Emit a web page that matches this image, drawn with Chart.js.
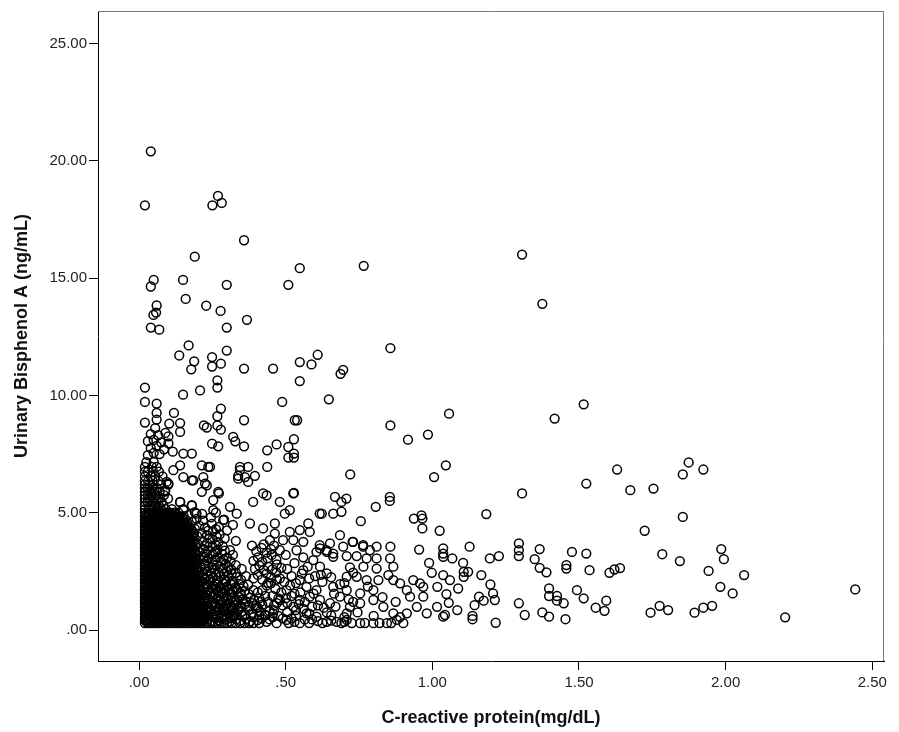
<!DOCTYPE html>
<html>
<head>
<meta charset="utf-8">
<script src="https://cdn.jsdelivr.net/npm/chart.js@4.4.1/dist/chart.umd.min.js"></script>
<style>
  html, body { margin: 0; padding: 0; background: #fff; }
  canvas { display: block; }
</style>
</head>
<body>
<canvas id="chart" width="899" height="732"></canvas>
<script>
// axis ticks
const xTicks = [0, 0.5, 1, 1.5, 2, 2.5];
const xTickLabels = [".00", ".50", "1.00", "1.50", "2.00", "2.50"];
const yTicks = [0, 5, 10, 15, 20, 25];
const yTickLabels = [".00", "5.00", "10.00", "15.00", "20.00", "25.00"];

// [CRP, BPA] pairs
const highPoints = [
  [0.040,20.40],[0.020,18.10],[0.250,18.10],[0.269,18.50],[0.282,18.20],[0.358,16.61],[0.190,15.91],
  [0.548,15.42],[0.509,14.71],[0.050,14.92],[0.040,14.64],[0.150,14.92],[0.299,14.71],[0.159,14.11],
  [0.229,13.82],[0.278,13.60],[0.368,13.22],[0.060,13.83],[0.058,13.53],[0.049,13.43],[0.040,12.89],
  [0.069,12.80],[0.299,12.89],[0.766,15.52],[1.306,16.00],[1.375,13.90],[0.857,12.01],
  [0.169,12.13],[0.137,11.70],[0.188,11.45],[0.178,11.11],[0.249,11.63],[0.249,11.23],[0.279,11.35],
  [0.299,11.91],[0.358,11.14],[0.457,11.14],[0.548,11.42],[0.588,11.32],[0.609,11.73],[0.548,10.61],
  [0.687,10.92],[0.696,11.09],[0.267,10.64],[0.267,10.33],[0.208,10.21],[0.150,10.03],[0.020,10.33],
  [0.020,9.72],[0.060,9.65],[0.060,9.25],[0.119,9.25],[0.279,9.43],[0.488,9.72],[0.647,9.83],
  [1.057,9.22],[1.516,9.62],[1.417,9.01]
];

const midPoints = [
  [0.020,8.84],[0.060,8.97],[0.103,8.80],[0.140,8.82],[0.140,8.44],[0.267,9.11],[0.221,8.72],[0.231,8.63],
  [0.267,8.72],[0.279,8.54],[0.358,8.94],[0.531,8.94],[0.539,8.94],[0.857,8.72],[0.917,8.11],[0.985,8.33],
  [0.321,8.23],[0.328,8.04],[0.358,7.83],[0.249,7.94],[0.270,7.83],[0.437,7.66],[0.469,7.91],[0.509,7.80],
  [0.528,8.13],[0.509,7.35],[0.528,7.52],[0.528,7.35],[0.437,6.95],[0.344,6.95],[0.372,6.95],[0.395,6.57],
  [0.372,6.31],[0.338,6.57],[0.214,7.02],[0.236,6.95],[0.140,7.02],[0.151,6.52],[0.180,6.38],[0.219,6.52],
  [0.231,6.17],[0.100,6.24],[0.272,5.82],[0.423,5.82],[0.435,5.74],[0.528,5.84],[0.668,5.67],[0.707,5.60],
  [0.720,6.63],[1.006,6.52],[1.046,7.02],[1.306,5.82],[1.525,6.24],[1.630,6.84],[1.675,5.96],
  [1.874,7.14],[1.854,6.63],[1.924,6.84],[1.754,6.03],
  [0.03,7.45],[0.05,7.55],[0.07,7.50],[0.04,7.75],[0.06,7.85],[0.085,7.70],[0.03,8.05],[0.05,8.10],
  [0.075,8.00],[0.10,7.95],[0.04,8.35],[0.065,8.30],[0.09,8.40],[0.055,8.60],[0.10,8.25],[0.115,7.60],
  [0.151,7.52],[0.180,7.52],[0.117,6.81],[0.185,6.38],[0.242,6.95],[0.214,5.89],[0.270,5.89],[0.253,5.53],
  [0.344,6.81],[0.361,6.52],[0.338,6.45],[0.094,6.31],[0.089,5.96],[0.140,5.46],[0.180,5.32],[0.151,5.11],
  [0.196,4.96],[0.253,5.11],[0.287,4.68],[0.310,5.25],[0.333,4.96],[0.225,6.24],
  [0.526,5.82],[0.480,5.46],[0.514,5.11],[0.497,4.96],[0.389,5.46],[0.616,4.96],[0.662,4.96],[0.623,4.96]
];

const tailPoints = [
  [0.855,5.67],[0.855,5.50],[0.807,5.25],[0.690,5.46],[0.690,5.04],[0.756,4.64],[1.184,4.94],[0.937,4.75],
  [0.963,4.89],[0.966,4.75],[0.966,4.33],[1.025,4.23],[0.728,3.76],[0.696,3.55],[0.764,3.55],[0.810,3.55],
  [0.857,3.55],[0.955,3.43],[1.037,3.48],[1.037,3.26],[1.037,3.12],[1.068,3.05],[1.127,3.55],[1.105,2.86],
  [0.989,2.86],[1.196,3.05],[1.227,3.15],[1.295,3.69],[1.295,3.40],[1.295,3.15],[1.366,3.45],[1.349,3.02],
  [1.366,2.65],[1.389,2.46],[1.457,2.77],[1.457,2.62],[1.476,3.33],[1.525,3.26],[1.536,2.55],[1.604,2.44],
  [1.621,2.58],[1.640,2.64],[1.398,1.77],[1.398,1.45],[1.425,1.45],[1.425,1.25],[1.448,1.14],[1.493,1.70],
  [1.516,1.35],[1.557,0.95],[1.587,0.82],[1.593,1.25],[1.295,1.14],[1.315,0.64],[1.375,0.75],[1.398,0.57],
  [1.454,0.46],[1.216,0.31],[1.137,0.60],[1.137,0.46],[1.159,1.42],[1.144,1.06],[1.175,1.25],[1.213,1.28],
  [1.207,1.56],[1.198,1.94],[1.167,2.34],[1.088,1.77],[1.107,2.48],[1.107,2.27],[1.122,2.48],[1.037,2.34],
  [1.017,1.84],[1.048,1.53],[1.056,1.16],[1.085,0.85],[1.037,0.57],[1.016,0.99],
  [1.854,4.82],[1.724,4.23],[1.784,3.23],[1.844,2.94],[1.985,3.45],[1.994,3.02],[1.942,2.52],[2.063,2.34],
  [1.982,1.84],[2.024,1.56],[2.442,1.73],[1.775,1.03],[1.744,0.74],[1.804,0.85],[1.894,0.74],[1.924,0.95],
  [1.954,1.03],[2.203,0.54],
  [0.708,3.15],[0.742,3.15],[0.776,3.05],[0.810,3.05],[0.856,3.05],[0.867,2.70],[0.850,2.34],[0.810,2.62],
  [0.765,2.70],[0.719,2.67],[0.708,2.27],[0.742,2.27],[0.776,2.13],[0.816,2.13],[0.867,2.13],[0.890,1.99],
  [0.913,1.70],[0.935,2.13],[0.958,1.99],[0.924,1.42],[0.969,1.42],[0.947,0.99],[0.913,0.71],[0.879,0.43],
  [0.845,0.29],[0.799,0.29],[0.754,0.29],[0.708,0.43],[0.719,0.99],[0.754,1.14],[0.799,1.28],[0.833,0.99],
  [0.867,0.71],[0.901,0.29],[0.754,1.56],[0.708,1.70],[0.799,1.70],[0.981,0.71],[1.043,0.64],[0.998,2.44],
  [0.969,1.84],[1.060,2.13],[0.685,4.04],[0.730,3.76],[0.764,3.62],[0.787,3.40]
];

const knotPoints = [
  [0.39,2.20],[0.405,2.35],[0.42,2.15],[0.435,2.40],[0.45,2.25],[0.468,2.45],[0.48,2.20],[0.395,2.60],
  [0.41,2.75],[0.425,2.55],[0.44,2.70],[0.455,2.58],[0.47,2.80],[0.485,2.65],[0.39,2.95],[0.405,3.10],
  [0.42,2.90],[0.438,3.05],[0.452,3.20],[0.468,3.00],[0.40,3.35],[0.418,3.50],[0.435,3.30],[0.45,3.45],
  [0.425,3.65],[0.46,3.60],[0.385,3.60],
  [0.378,4.54],[0.423,4.33],[0.463,4.54],[0.463,4.11],[0.491,3.83],[0.446,3.83],[0.514,4.18],[0.548,4.26],
  [0.577,4.54],[0.582,4.18],[0.526,3.83],[0.560,3.76],[0.537,3.40],[0.616,3.62],[0.639,3.40],[0.605,3.33],
  [0.662,3.26],[0.651,3.69],[0.617,3.48],[0.640,3.33],[0.662,3.12],[0.594,2.98],[0.617,2.70],[0.640,2.41],
  [0.560,2.55],[0.548,2.13],[0.571,1.84],[0.605,1.70],[0.662,1.84],[0.685,1.42],[0.651,1.14],[0.617,1.28],
  [0.582,1.42],[0.548,1.28],[0.526,0.99],[0.571,0.71],[0.605,0.57],[0.640,0.35],[0.674,0.35],[0.708,0.71],
  [0.548,0.29],[0.503,0.43],[0.469,0.29],[0.457,0.71],[0.480,1.28],[0.503,1.70],
  [0.41,0.30],[0.43,0.62],[0.445,0.45],[0.46,0.85],[0.475,0.60],[0.49,1.05],[0.505,0.75],[0.52,0.50],
  [0.44,1.20],[0.455,1.45],[0.47,1.15],[0.485,1.60],[0.50,1.35],[0.515,1.90],[0.53,1.55],[0.42,1.70],
  [0.435,1.90],[0.45,2.00],[0.465,1.75],[0.495,2.05],[0.51,0.30],[0.535,0.60],[0.545,1.10],[0.56,0.90],
  [0.58,0.30],[0.59,1.00],[0.60,2.30],[0.575,2.70],[0.59,0.45],[0.625,0.30],[0.63,0.95],[0.655,0.62],
  [0.665,1.55],[0.69,0.30],[0.70,2.00],[0.725,0.30],[0.73,1.20],[0.745,0.75],[0.77,0.30],[0.78,1.85],
  [0.80,0.60],[0.82,0.30],[0.83,1.40],[0.86,0.30],[0.875,1.20],[0.89,0.55],
  [0.405,0.95],[0.415,1.20],[0.43,1.45],[0.445,0.80],[0.46,1.05],[0.475,1.35],[0.49,0.50],[0.505,1.15],
  [0.52,1.45],[0.535,0.85],[0.55,1.60],[0.565,1.20],[0.58,0.70],[0.595,1.55],[0.61,1.05],[0.625,2.05],
  [0.64,0.75],[0.655,2.25],[0.67,1.00],[0.685,1.95],[0.70,0.55],[0.715,1.30],[0.73,2.45],[0.44,2.00],
  [0.47,2.15],[0.52,2.30],[0.535,2.00],[0.555,2.40],[0.58,2.20],[0.62,2.35],[0.505,2.60],[0.53,2.85],
  [0.56,3.10],[0.50,3.20],[0.48,3.40],[0.41,0.62],[0.435,0.35],[0.455,0.55],[0.53,0.35],[0.565,0.45],
  [0.61,0.38],[0.655,0.40],[0.70,0.35]
];

const shoulderPoints = [
  [0.232,0.45],[0.247,0.38],[0.259,0.52],[0.271,0.41],[0.284,0.55],[0.296,0.44],[0.309,0.36],[0.318,0.58],
  [0.331,0.47],[0.344,0.39],[0.352,0.60],[0.366,0.48],[0.378,0.37],[0.391,0.55],[0.404,0.42],[0.418,0.50],
  [0.228,0.66],[0.241,0.78],[0.255,0.69],[0.268,0.84],[0.279,0.72],[0.292,0.88],[0.305,0.70],[0.314,0.83],
  [0.327,0.74],[0.339,0.90],[0.350,0.77],[0.362,0.68],[0.374,0.86],[0.386,0.73],[0.399,0.92],[0.412,0.79],
  [0.430,0.66],[0.236,0.95],[0.250,1.02],[0.263,0.97],[0.276,1.08],[0.288,1.00],[0.301,1.12],[0.313,0.98],
  [0.325,1.05],[0.337,1.15],[0.349,1.01],[0.361,1.10],[0.373,0.99],[0.386,1.14],[0.398,1.03],[0.420,1.08],
  [0.226,1.22],[0.239,1.30],[0.252,1.19],[0.264,1.34],[0.277,1.25],[0.289,1.40],[0.302,1.28],[0.314,1.36],
  [0.327,1.24],[0.340,1.42],[0.353,1.31],[0.366,1.22],[0.379,1.38],[0.392,1.29],[0.410,1.35],
  [0.230,1.48],[0.243,1.58],[0.256,1.50],[0.268,1.64],[0.281,1.55],[0.294,1.70],[0.307,1.52],[0.320,1.62],
  [0.333,1.74],[0.346,1.57],[0.360,1.66],[0.374,1.53],[0.390,1.70],[0.405,1.60],
  [0.222,1.78],[0.235,1.88],[0.248,1.80],[0.261,1.95],[0.274,1.84],[0.287,1.99],[0.300,1.86],[0.313,1.94],
  [0.327,1.81],[0.341,1.97],[0.356,1.87],[0.372,1.93],
  [0.214,2.08],[0.227,2.18],[0.240,2.06],[0.252,2.24],[0.265,2.12],[0.278,2.28],[0.291,2.15],[0.304,2.30],
  [0.318,2.10],[0.333,2.25],[0.348,2.14],[0.365,2.30],
  [0.218,2.38],[0.231,2.50],[0.245,2.42],[0.258,2.58],[0.271,2.46],[0.285,2.62],[0.299,2.50],[0.314,2.58],
  [0.330,2.44],[0.350,2.60],
  [0.210,2.70],[0.223,2.82],[0.237,2.74],[0.250,2.90],[0.264,2.78],[0.279,2.94],[0.295,2.82],[0.312,2.92],
  [0.330,2.76],
  [0.208,3.02],[0.222,3.14],[0.236,3.05],[0.250,3.22],[0.266,3.10],[0.282,3.26],[0.300,3.08],[0.320,3.20],
  [0.205,3.34],[0.219,3.46],[0.234,3.38],[0.250,3.55],[0.267,3.42],[0.285,3.58],[0.310,3.40],
  [0.200,3.66],[0.215,3.78],[0.232,3.70],[0.250,3.86],[0.270,3.74],[0.292,3.90],[0.330,3.80],
  [0.198,4.00],[0.214,4.12],[0.232,4.04],[0.252,4.20],[0.275,4.08],[0.300,4.25],
  [0.190,4.32],[0.205,4.45],[0.225,4.36],[0.248,4.52],[0.272,4.40],[0.320,4.48],
  [0.180,4.62],[0.196,4.74],[0.218,4.66],[0.245,4.80],[0.290,4.70],
  [0.168,4.90],[0.190,5.02],[0.215,4.95],[0.262,5.00]
];

// extra fill for the darker grey band just right of the black block
const shoulderExtra = [
  [0.226,0.52],[0.238,0.61],[0.252,0.57],[0.266,0.63],[0.281,0.49],[0.297,0.62],[0.311,0.51],[0.325,0.64],
  [0.229,0.88],[0.244,0.86],[0.259,0.80],[0.274,0.94],[0.289,0.79],[0.304,0.93],[0.321,0.91],[0.337,0.81],
  [0.231,1.12],[0.246,1.14],[0.261,1.10],[0.283,1.17],[0.296,1.06],[0.319,1.18],[0.334,1.30],[0.348,1.47],
  [0.224,1.38],[0.249,1.42],[0.272,1.46],[0.299,1.42],[0.312,1.60],[0.286,1.62],[0.262,1.72],[0.236,1.66],
  [0.229,1.96],[0.255,1.86],[0.281,1.78],[0.306,1.74],[0.322,2.00],[0.297,2.06],[0.268,2.02],[0.244,2.14],
  [0.233,2.31],[0.262,2.35],[0.289,2.40],[0.316,2.40],[0.226,2.60],[0.251,2.66],[0.276,2.70],[0.305,2.68],
  [0.231,2.96],[0.258,3.00],[0.288,3.00],[0.227,3.27],[0.259,3.32],[0.292,3.38],[0.224,3.58],[0.262,3.62],
  [0.241,3.92],[0.264,3.98],[0.236,4.24],[0.262,4.30]
];

// left column above the dense block: [BPA, CRP, CRP, ...]
const leftRows = [
  [5.15, 0.02,0.033,0.047,0.061,0.075,0.09,0.112,0.151],
  [5.30, 0.02,0.04,0.054,0.068,0.083,0.18],
  [5.45, 0.02,0.029,0.046,0.06,0.077,0.14],
  [5.60, 0.02,0.037,0.051,0.066,0.099],
  [5.75, 0.02,0.03,0.044,0.058,0.085],
  [5.90, 0.02,0.038,0.052,0.07,0.089],
  [6.05, 0.02,0.029,0.045,0.061],
  [6.20, 0.02,0.036,0.05,0.075,0.1],
  [6.35, 0.02,0.031,0.046,0.066],
  [6.55, 0.02,0.04,0.055,0.08],
  [6.75, 0.02,0.03,0.048,0.068],
  [6.95, 0.02,0.044,0.06],
  [7.15, 0.025,0.05]
];

// dense block near the origin: [BPA, CRP, CRP, ...]
const coreRows = [
  [0.30, 0.02,0.03,0.04,0.05,0.06,0.07,0.08,0.09,0.10,0.11,0.12,0.13,0.14,0.15,0.16,0.17,0.18,0.19,0.20,0.21,0.22,0.23,0.24,0.25,0.26,0.27,0.28,0.29,0.30,0.315,0.33,0.345,0.36,0.375,0.39],
  [0.42, 0.02,0.031,0.046,0.058,0.073,0.085,0.099,0.112,0.127,0.139,0.153,0.166,0.181,0.194,0.208,0.221],
  [0.56, 0.02,0.038,0.051,0.066,0.079,0.092,0.106,0.119,0.133,0.146,0.16,0.174,0.187,0.201,0.215],
  [0.70, 0.02,0.029,0.044,0.057,0.071,0.086,0.098,0.113,0.126,0.14,0.152,0.167,0.18,0.195,0.209,0.224],
  [0.84, 0.02,0.036,0.05,0.064,0.077,0.091,0.104,0.118,0.131,0.145,0.159,0.172,0.186,0.2,0.213],
  [0.98, 0.02,0.03,0.043,0.058,0.07,0.084,0.099,0.111,0.125,0.138,0.153,0.165,0.179,0.193,0.207,0.22],
  [1.12, 0.02,0.037,0.052,0.063,0.078,0.092,0.105,0.117,0.132,0.146,0.158,0.172,0.185,0.199,0.212],
  [1.26, 0.02,0.028,0.045,0.056,0.072,0.085,0.097,0.112,0.124,0.139,0.151,0.166,0.178,0.192,0.206,0.219],
  [1.40, 0.02,0.035,0.049,0.065,0.076,0.09,0.104,0.119,0.13,0.144,0.157,0.171,0.184,0.198,0.211],
  [1.55, 0.02,0.031,0.044,0.059,0.07,0.083,0.098,0.11,0.125,0.137,0.152,0.164,0.179,0.191,0.205,0.218],
  [1.70, 0.02,0.038,0.05,0.064,0.078,0.091,0.105,0.118,0.131,0.145,0.159,0.17,0.185,0.197,0.21],
  [1.85, 0.02,0.029,0.043,0.057,0.071,0.084,0.097,0.111,0.126,0.138,0.151,0.165,0.178,0.192,0.204],
  [2.00, 0.02,0.036,0.051,0.063,0.077,0.092,0.103,0.117,0.132,0.144,0.158,0.171,0.186,0.199,0.212],
  [2.15, 0.02,0.03,0.045,0.058,0.07,0.085,0.099,0.112,0.124,0.139,0.152,0.164,0.179,0.193],
  [2.30, 0.02,0.037,0.05,0.065,0.078,0.09,0.106,0.118,0.131,0.146,0.157,0.172,0.185,0.2],
  [2.45, 0.02,0.028,0.044,0.057,0.072,0.084,0.098,0.111,0.125,0.138,0.153,0.166,0.178,0.191,0.205],
  [2.60, 0.02,0.035,0.049,0.063,0.077,0.091,0.104,0.119,0.132,0.145,0.159,0.171,0.186,0.198],
  [2.75, 0.02,0.031,0.043,0.058,0.071,0.085,0.097,0.112,0.126,0.138,0.152,0.165,0.18,0.193],
  [2.90, 0.02,0.038,0.05,0.064,0.078,0.092,0.105,0.117,0.131,0.144,0.158,0.172,0.186,0.2],
  [3.05, 0.02,0.029,0.045,0.056,0.07,0.084,0.099,0.111,0.124,0.139,0.151,0.166,0.179,0.192],
  [3.20, 0.02,0.036,0.051,0.065,0.077,0.09,0.104,0.118,0.132,0.145,0.157,0.171,0.184,0.197],
  [3.35, 0.02,0.03,0.044,0.058,0.072,0.085,0.098,0.112,0.125,0.138,0.152,0.165,0.178,0.19],
  [3.50, 0.02,0.037,0.05,0.063,0.078,0.091,0.105,0.119,0.13,0.146,0.158,0.17,0.185],
  [3.65, 0.02,0.028,0.043,0.057,0.071,0.084,0.097,0.111,0.126,0.139,0.151,0.166,0.179,0.193],
  [3.80, 0.02,0.035,0.049,0.064,0.076,0.092,0.104,0.117,0.131,0.144,0.159,0.172,0.186],
  [3.95, 0.02,0.031,0.045,0.058,0.07,0.085,0.099,0.112,0.124,0.138,0.153,0.165,0.18],
  [4.10, 0.02,0.038,0.051,0.065,0.078,0.09,0.106,0.118,0.132,0.145,0.157,0.171,0.187],
  [4.25, 0.02,0.029,0.044,0.056,0.072,0.084,0.098,0.111,0.125,0.139,0.152,0.166,0.178],
  [4.40, 0.02,0.036,0.05,0.063,0.077,0.091,0.104,0.119,0.13,0.146,0.158,0.172],
  [4.55, 0.02,0.03,0.043,0.057,0.071,0.085,0.097,0.112,0.126,0.138,0.151,0.165],
  [4.70, 0.02,0.037,0.049,0.064,0.078,0.092,0.105,0.117,0.131,0.144,0.159],
  [4.85, 0.02,0.028,0.045,0.058,0.07,0.084,0.099,0.111,0.124,0.139,0.152],
  [5.00, 0.02,0.035,0.051,0.065,0.077,0.09,0.106,0.12,0.134]
];

// second layer of the dense block, sitting between the rows above
const coreRowsB = [
  [0.36, 0.025,0.038,0.052,0.065,0.079,0.092,0.105,0.119,0.133,0.146,0.16,0.173,0.187,0.2,0.214],
  [0.49, 0.024,0.034,0.049,0.061,0.075,0.089,0.102,0.116,0.129,0.143,0.156,0.17,0.183,0.197,0.21,0.226],
  [0.63, 0.025,0.041,0.055,0.068,0.082,0.095,0.109,0.122,0.136,0.149,0.163,0.177,0.19,0.204,0.218],
  [0.77, 0.023,0.033,0.047,0.061,0.074,0.088,0.101,0.115,0.129,0.142,0.156,0.169,0.183,0.196,0.21],
  [0.91, 0.025,0.04,0.054,0.067,0.081,0.094,0.108,0.121,0.135,0.149,0.162,0.176,0.189,0.203,0.217],
  [1.05, 0.024,0.034,0.048,0.062,0.075,0.088,0.102,0.116,0.129,0.143,0.157,0.17,0.184,0.197,0.211],
  [1.19, 0.025,0.041,0.055,0.069,0.082,0.096,0.109,0.123,0.137,0.15,0.164,0.177,0.191,0.205],
  [1.33, 0.023,0.033,0.047,0.06,0.074,0.087,0.101,0.115,0.128,0.142,0.155,0.169,0.182,0.196,0.21],
  [1.47, 0.025,0.04,0.054,0.068,0.081,0.095,0.108,0.122,0.136,0.149,0.163,0.176,0.19,0.204],
  [1.62, 0.024,0.034,0.048,0.062,0.075,0.089,0.103,0.116,0.13,0.143,0.157,0.171,0.184,0.198],
  [1.77, 0.025,0.041,0.055,0.068,0.082,0.096,0.109,0.123,0.136,0.15,0.164,0.177,0.191,0.205],
  [1.92, 0.023,0.033,0.047,0.061,0.074,0.088,0.102,0.115,0.129,0.143,0.156,0.17,0.183,0.197],
  [2.07, 0.025,0.04,0.054,0.067,0.081,0.095,0.108,0.122,0.135,0.149,0.163,0.176,0.19,0.204],
  [2.22, 0.024,0.034,0.048,0.062,0.076,0.089,0.103,0.116,0.13,0.143,0.157,0.171,0.184,0.198],
  [2.37, 0.025,0.041,0.055,0.069,0.082,0.096,0.109,0.123,0.137,0.15,0.164,0.178,0.191],
  [2.52, 0.023,0.033,0.047,0.061,0.074,0.088,0.101,0.115,0.129,0.142,0.156,0.17,0.183,0.197],
  [2.67, 0.025,0.04,0.054,0.068,0.081,0.095,0.108,0.122,0.136,0.149,0.163,0.176,0.19],
  [2.82, 0.024,0.034,0.048,0.062,0.075,0.089,0.102,0.116,0.13,0.143,0.157,0.17,0.184,0.198],
  [2.97, 0.025,0.041,0.055,0.068,0.082,0.096,0.109,0.123,0.136,0.15,0.164,0.177,0.191],
  [3.12, 0.023,0.033,0.047,0.061,0.074,0.088,0.102,0.115,0.129,0.142,0.156,0.17,0.183],
  [3.27, 0.025,0.04,0.054,0.067,0.081,0.095,0.108,0.122,0.136,0.149,0.163,0.176,0.19],
  [3.42, 0.024,0.034,0.048,0.062,0.076,0.089,0.103,0.116,0.13,0.143,0.157,0.171,0.184],
  [3.57, 0.025,0.041,0.055,0.069,0.082,0.096,0.109,0.123,0.137,0.15,0.164,0.178],
  [3.72, 0.023,0.033,0.047,0.061,0.074,0.088,0.101,0.115,0.129,0.142,0.156,0.17,0.183],
  [3.87, 0.025,0.04,0.054,0.068,0.081,0.095,0.108,0.122,0.136,0.149,0.163,0.176],
  [4.02, 0.024,0.034,0.048,0.062,0.075,0.089,0.102,0.116,0.13,0.143,0.157,0.17,0.182],
  [4.17, 0.025,0.041,0.055,0.068,0.082,0.096,0.109,0.123,0.136,0.15,0.164,0.176],
  [4.32, 0.023,0.033,0.047,0.061,0.074,0.088,0.102,0.115,0.129,0.142,0.156,0.168],
  [4.47, 0.025,0.04,0.054,0.067,0.081,0.095,0.108,0.122,0.136,0.149,0.161],
  [4.62, 0.024,0.034,0.048,0.062,0.076,0.089,0.103,0.116,0.13,0.143,0.154],
  [4.77, 0.025,0.041,0.055,0.069,0.082,0.096,0.109,0.123,0.137,0.148],
  [4.92, 0.023,0.033,0.047,0.061,0.074,0.088,0.101,0.115,0.128]
];

const pairsToXY = list => list.map(([x, y]) => ({ x, y }));
const rowsToXY = rows => rows.flatMap(row => row.slice(1).map(x => ({ x, y: row[0] })));

const points = [
  ...rowsToXY(coreRows),
  ...rowsToXY(coreRowsB),
  ...rowsToXY(leftRows),
  ...pairsToXY(shoulderPoints),
  ...pairsToXY(shoulderExtra),
  ...pairsToXY(knotPoints),
  ...pairsToXY(tailPoints),
  ...pairsToXY(midPoints),
  ...pairsToXY(highPoints)
];

const fontFamily = '"Liberation Sans", Arial, sans-serif';

// top and right edges of the frame are a lighter grey
const frame = {
  id: "frame",
  afterDraw: chart => {
    const { ctx, chartArea: a } = chart;
    ctx.save();
    ctx.strokeStyle = "#777";
    ctx.lineWidth = 1;
    ctx.beginPath();
    ctx.moveTo(a.left, a.top + 0.5);
    ctx.lineTo(a.right - 0.5, a.top + 0.5);
    ctx.lineTo(a.right - 0.5, a.bottom);
    ctx.stroke();
    ctx.restore();
  }
};

new Chart(document.getElementById("chart"), {
  type: "scatter",
  data: {
    datasets: [{
      data: points,
      pointRadius: 4.4,
      pointHoverRadius: 4.4,
      borderWidth: 1.5,
      borderColor: "#000",
      backgroundColor: "rgba(0,0,0,0)"
    }]
  },
  options: {
    responsive: false,
    animation: false,
    layout: { padding: { top: 10, right: 15, left: 0, bottom: 0 } },
    plugins: {
      legend: { display: false },
      tooltip: { enabled: false }
    },
    scales: {
      x: {
        type: "linear",
        min: -0.14,
        max: 2.54,
        afterBuildTicks: s => { s.ticks = xTicks.map(value => ({ value })); },
        afterFit: s => { s.height = 71; },
        ticks: {
          callback: v => xTickLabels[xTicks.indexOf(v)],
          color: "#222",
          font: { family: fontFamily, size: 15 },
          padding: 4,
          maxRotation: 0,
          autoSkip: false
        },
        grid: { drawOnChartArea: false, drawTicks: true, tickLength: 9, color: "#000", lineWidth: 1 },
        border: { color: "#000", width: 1 },
        title: {
          display: true,
          text: "C-reactive protein(mg/dL)",
          color: "#111",
          font: { family: fontFamily, size: 18, weight: "bold" },
          padding: { top: 0, bottom: 3 }
        }
      },
      y: {
        type: "linear",
        min: -1.32,
        max: 26.38,
        afterBuildTicks: s => { s.ticks = yTicks.map(value => ({ value })); },
        afterFit: s => { s.width = 98; },
        ticks: {
          callback: v => yTickLabels[yTicks.indexOf(v)],
          color: "#222",
          font: { family: fontFamily, size: 15 },
          padding: 2,
          autoSkip: false
        },
        grid: { drawOnChartArea: false, drawTicks: true, tickLength: 9, color: "#000", lineWidth: 1 },
        border: { color: "#000", width: 1 },
        title: {
          display: true,
          text: "Urinary Bisphenol A (ng/mL)",
          color: "#111",
          font: { family: fontFamily, size: 18, weight: "bold" },
          padding: { top: 11, bottom: 0 }
        }
      }
    }
  },
  plugins: [frame]
});
</script>
</body>
</html>
